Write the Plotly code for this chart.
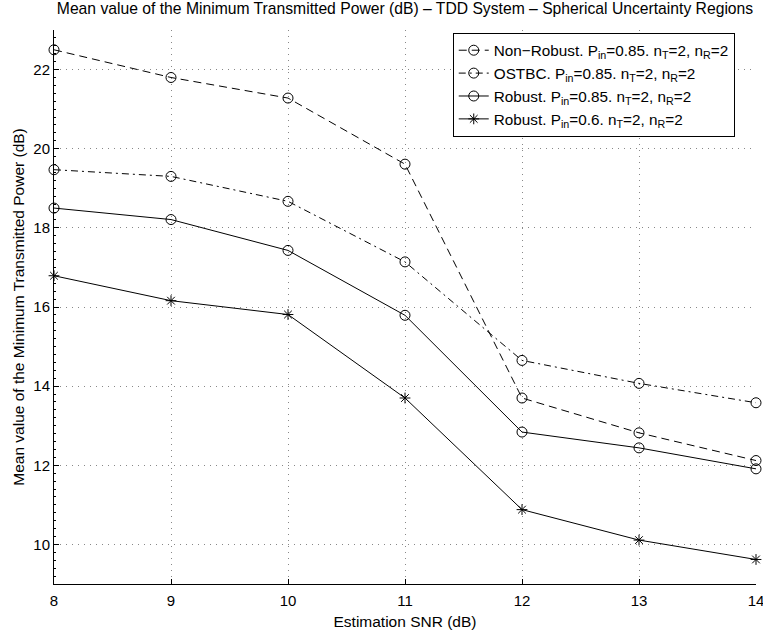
import plotly.graph_objects as go

snr = [8, 9, 10, 11, 12, 13, 14]
non_robust = [22.5, 21.80, 21.28, 19.61, 13.70, 12.82, 12.12]
ostbc = [19.47, 19.30, 18.67, 17.14, 14.65, 14.07, 13.58]
robust_085 = [18.50, 18.21, 17.43, 15.79, 12.84, 12.44, 11.91]
robust_06 = [16.79, 16.16, 15.81, 13.70, 10.88, 10.11, 9.62]

names = [
    "Non\u2212Robust. P<sub>in</sub>=0.85. n<sub>T</sub>=2, n<sub>R</sub>=2",
    "OSTBC. P<sub>in</sub>=0.85. n<sub>T</sub>=2, n<sub>R</sub>=2",
    "Robust. P<sub>in</sub>=0.85. n<sub>T</sub>=2, n<sub>R</sub>=2",
    "Robust. P<sub>in</sub>=0.6. n<sub>T</sub>=2, n<sub>R</sub>=2",
]
xticks = [8, 9, 10, 11, 12, 13, 14]
yticks = [10, 12, 14, 16, 18, 20, 22]

FONT = "Liberation Sans, Arial, Helvetica, sans-serif"

fig = go.Figure()
series = [
    (non_robust, "8px,5px", "circle-open", 10),
    (ostbc, "7px,4px,2px,4px", "circle-open", 10),
    (robust_085, "solid", "circle-open", 10),
    (robust_06, "solid", "asterisk-open", 9),
]
for (ys, dash, sym, sz), nm in zip(series, names):
    fig.add_trace(go.Scatter(
        x=snr, y=ys, name=nm, mode="lines+markers", cliponaxis=False,
        line=dict(color="black", width=1, dash=dash),
        marker=dict(symbol=sym, size=sz, color="black",
                    line=dict(color="black", width=1)),
    ))

fig.update_layout(
    width=763, height=630,
    margin=dict(l=53.5, r=6.5, t=30, b=46),
    paper_bgcolor="white", plot_bgcolor="white",
    font=dict(family=FONT, size=15, color="black"),
    title=dict(text="Mean value of the Minimum Transmitted Power (dB) \u2013 TDD System \u2013 Spherical Uncertainty Regions",
               x=0.5, xref="paper", xanchor="center",
               y=0.995, yref="container", yanchor="top",
               font=dict(size=15.7)),
    showlegend=True,
    legend=dict(x=0.568, y=0.995, xanchor="left", yanchor="top",
                bgcolor="white", bordercolor="black", borderwidth=1,
                font=dict(size=15.3), itemwidth=30, tracegroupgap=0),
)
fig.update_xaxes(
    range=[8, 14], tickvals=xticks, ticktext=[str(v) for v in xticks],
    tickfont=dict(size=15), ticklabelstandoff=3,
    showline=True, linecolor="black", linewidth=1, mirror=False,
    ticks="inside", ticklen=5, tickcolor="black",
    showgrid=True, gridcolor="#888888", griddash="1px,5px", gridwidth=1,
    zeroline=False, automargin=False, ticklabeloverflow="allow",
    title=dict(text="Estimation SNR (dB)", standoff=9, font=dict(size=15.5)),
)
fig.update_yaxes(
    range=[9, 23], tickvals=yticks, ticktext=[str(v) for v in yticks],
    tickfont=dict(size=15),
    showline=True, linecolor="black", linewidth=1, mirror=False,
    ticks="inside", ticklen=5, tickcolor="black",
    showgrid=True, gridcolor="#888888", griddash="1px,5px", gridwidth=1,
    zeroline=False, automargin=False, ticklabeloverflow="allow",
    minor=dict(ticks="inside", ticklen=2, tickcolor="black", dtick=0.2, showgrid=False),
    title=dict(text="Mean value of the Minimum Transmitted Power (dB)", standoff=4, font=dict(size=15.5)),
)
fig.write_html("out.html", config={"displayModeBar": False},
               post_script="document.body.style.margin='0';document.body.style.overflow='hidden';")
